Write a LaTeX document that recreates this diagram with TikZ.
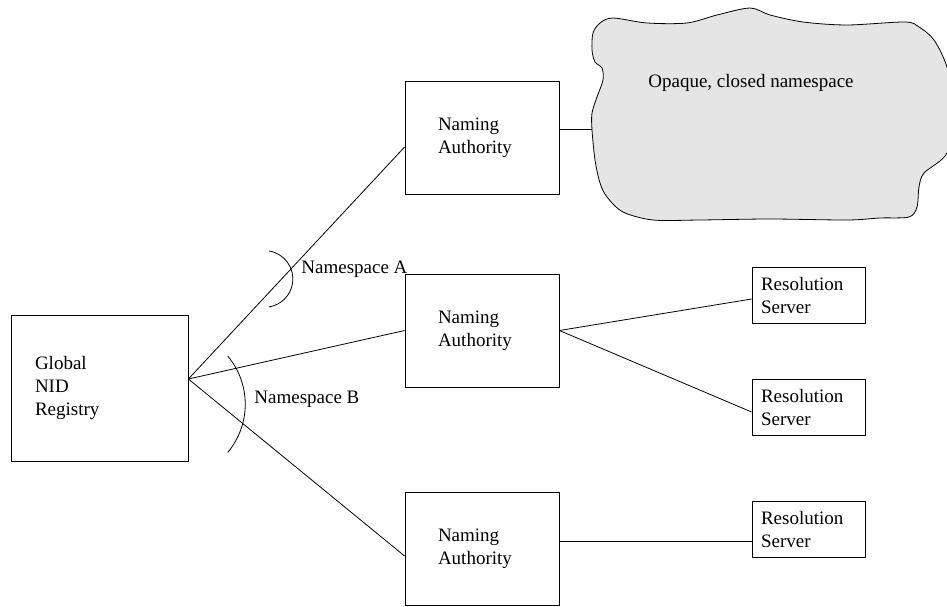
\documentclass[tikz,border=0pt]{standalone}
\usepackage{fontspec}
\setmainfont{Liberation Serif}

\tikzset{
  regbox/.style={draw,minimum width=177pt,minimum height=146pt,inner xsep=24pt,text width=129pt,align=left},
  nabox/.style={draw,minimum width=154pt,minimum height=113pt,inner xsep=33pt,text width=88pt,align=left},
  resbox/.style={draw,minimum width=113pt,minimum height=56pt,inner xsep=9pt,text width=95pt,align=left},
  lbl/.style={inner sep=0pt,anchor=west},
}

\begin{document}
\begin{tikzpicture}[x=1pt,y=-1pt,line width=0.8pt,font=\fontsize{19}{23}\selectfont]
  \useasboundingbox (0,0) rectangle (947,607);
  \draw[fill=gray!20] plot[smooth cycle] coordinates {
    (600,23) (613,18) (647,23) (687,23) (717,15) (750,8) (770,15) (803,22)
    (847,25) (905,22) (919,27) (934,40) (947,67) (956,110) (947,153) (924,173)
    (919,187) (917,207) (909,217) (880,218) (847,220) (770,219) (700,220)
    (653,220) (623,212) (607,197) (600,183) (595,160) (592,130) (592,113)
    (597,97) (603,80) (602,68) (595,62) (592,50) (593,33)};
  \node[lbl] (cloudtxt) at (648,83) {Opaque, closed namespace};
  \coordinate (cloudin) at (592,129);
  \node[regbox] (REG) at (99.5,388) {Global\\NID\\Registry};
  \foreach \y [count=\i] in {137.5,330.5,548.5}{%
    \node[nabox] (NA-\i) at (482,\y) {Naming\\Authority};
  }
  \foreach \y [count=\i] in {295,407.5,529}{%
    \node[resbox] (RS-\i) at (808.5,\y) {Resolution\\Server};
  }
  \coordinate (hub) at ([yshift=9pt]REG.east);
  \draw (hub) -- ([yshift=-9.5pt]NA-1.west);
  \draw (hub) -- (NA-2.west);
  \draw (hub) -- ([yshift=-7.5pt]NA-3.west);
  \draw ([yshift=8.5pt]NA-1.east) -- (cloudin);
  \draw (NA-2.east) -- ([yshift=-4pt]RS-1.west);
  \draw (NA-2.east) -- ([yshift=-4.5pt]RS-2.west);
  \draw ([yshift=7.5pt]NA-3.east) -- ([yshift=-12pt]RS-3.west);
  \draw (269,251) arc[start angle=81,end angle=-81,radius=28.3pt];
  \node[lbl] (nsA) at (301,269) {Namespace A};
  \draw (227.7,356) arc[start angle=40,end angle=-40,radius=75pt];
  \node[lbl] (nsB) at (254,399) {Namespace B};
\end{tikzpicture}
\end{document}
